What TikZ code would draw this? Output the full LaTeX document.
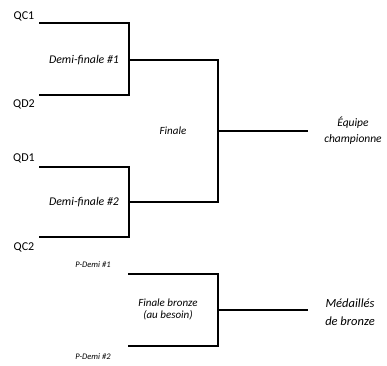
\documentclass[tikz,border=0pt]{standalone}
\usepackage{fontspec}
\setmainfont{Carlito}
\usetikzlibrary{positioning}
\begin{document}
\begin{tikzpicture}[x=1pt, y=-1pt, line width=1.6pt,
	equipe/.style={font=\fontsize{12}{14}\selectfont, inner sep=0pt},
	match/.style={font=\fontsize{11}{12}\selectfont\itshape, align=center, inner sep=0pt},
	petit/.style={font=\fontsize{8.5}{10}\selectfont\itshape, inner sep=0pt},
	issue/.style={font=\fontsize{11.5}{16}\selectfont\itshape, align=center, inner sep=0pt}]
	\useasboundingbox (0,0) rectangle (387,365);
	
	\coordinate (a1) at (39,23);
	\coordinate (a2) at (39,95);
	\coordinate (a3) at (39,167);
	\coordinate (a4) at (39,237);
	\coordinate (s1) at (129,60);
	\coordinate (s2) at (129,202);
	\coordinate (f) at (218,131);
	\coordinate (champ) at (308,131);
	\coordinate (b1) at (128,274);
	\coordinate (b2) at (128,346);
	\coordinate (bf) at (218,310);
	\coordinate (bronze) at (308,310);
	
	\foreach \a/\m/\b in {a1/s1/a2, a3/s2/a4, s1/f/s2, b1/bf/b2}
	\draw (\a) -| (\m) |- (\b);
	
	\foreach \m/\e in {f/champ, bf/bronze}
	\draw (\m) -- (\e);
	
	\node[equipe] (qc1) at (24,16) {QC1};
	\node[equipe] (qd2) at (24,104) {QD2};
	\node[equipe] (qd1) at (24,158) {QD1};
	\node[equipe] (qc2) at (24,247) {QC2};
	
	\node[match, font=\fontsize{11.8}{12}\selectfont\itshape] (demi1) at (84,60) {Demi-finale \#1};
	\node[match, font=\fontsize{11.8}{12}\selectfont\itshape] (demi2) at (84,202) {Demi-finale \#2};
	\node[match] (finale) at (173,131) {Finale};
	\node[match] (fbronze) at (168,309) {Finale bronze\\(au besoin)};
	
	\node[petit] (pdemi1) at (93,265) {P-Demi \#1};
	\node[petit] (pdemi2) at (93,357) {P-Demi \#2};
	
	\node[issue] (champion) at (353,131) {Équipe\\championne};
	\node[issue, font=\fontsize{12.5}{18}\selectfont\itshape] (medaille) at (350,312) {Médaillés\\de bronze};
\end{tikzpicture}
\end{document}
